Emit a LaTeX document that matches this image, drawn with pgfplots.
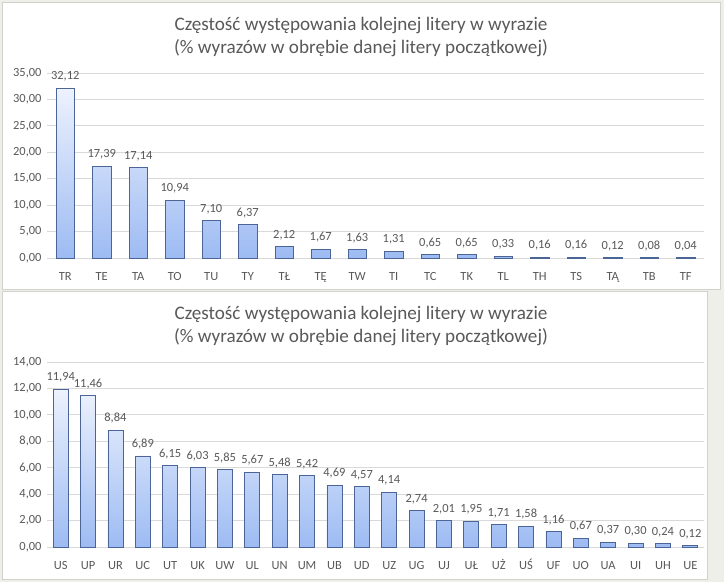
\documentclass[border=0pt]{standalone}
\usepackage{fontspec}
\setmainfont{Carlito}
\usepackage{pgfplots}
\pgfplotsset{compat=1.18}
\definecolor{bg}{HTML}{EEEFE8}
\definecolor{panelborder}{HTML}{D2D2CC}
\definecolor{txt}{HTML}{595959}
\definecolor{gridc}{HTML}{D9D9D9}
\definecolor{bartop}{HTML}{EDF2FD}
\definecolor{barbot}{HTML}{9DBBF3}
\definecolor{barline}{HTML}{4A6596}

\pgfplotsset{mybars/.style={
  scale only axis, width=657bp, height=185bp, ymin=0,
  axis line style={draw=none}, tick style={draw=none}, major tick length=0pt,
  ymajorgrids, grid style={gridc, line width=0.8bp},
  xtick=data,
  /pgf/number format/assume math mode=true,
  ticklabel style={font=\fontsize{12.5}{14}\selectfont, text=txt},
  xticklabel style={text height=9bp, text depth=3bp},
  yticklabel style={/pgf/number format/fixed, /pgf/number format/fixed zerofill, /pgf/number format/precision=2, /pgf/number format/use comma},
  yticklabel shift=2bp,
  xticklabel shift=10bp,
  nodes near coords,
  nodes near coords style={font=\fontsize{12.5}{14}\selectfont, text=txt, yshift=3bp, /pgf/number format/fixed, /pgf/number format/fixed zerofill, /pgf/number format/precision=2, /pgf/number format/use comma, /pgf/number format/assume math mode=true},
  clip=false,
}}

\begin{document}
\begin{tikzpicture}[x=1bp,y=1bp]
\fill[bg] (0,0) rectangle (724,582);
\filldraw[fill=white, draw=panelborder, line width=0.8bp] (2,293) rectangle (720,580);
\filldraw[fill=white, draw=panelborder, line width=0.8bp] (2,3) rectangle (707,291);

\node[font=\fontsize{19.2}{22.5}\selectfont, text=txt, align=center] at (361,545) {Częstość występowania kolejnej litery w wyrazie\\(\% wyrazów w obrębie danej litery początkowej)};
\node[font=\fontsize{19.2}{22.5}\selectfont, text=txt, align=center] at (361,256) {Częstość występowania kolejnej litery w wyrazie\\(\% wyrazów w obrębie danej litery początkowej)};

\begin{axis}[mybars, at={(47bp,324bp)}, anchor=south west,
  ymax=35, ytick={0,5,...,35}, xmin=-0.5, xmax=17.5,
  xticklabels={TR,TE,TA,TO,TU,TY,TŁ,TĘ,TW,TI,TC,TK,TL,TH,TS,TĄ,TB,TF}]
\addplot[ybar, bar width=18.5bp, draw=barline, line width=0.8bp, top color=bartop, bottom color=barbot] coordinates {
(0,32.12) (1,17.39) (2,17.14) (3,10.94) (4,7.10) (5,6.37) (6,2.12) (7,1.67) (8,1.63)
(9,1.31) (10,0.65) (11,0.65) (12,0.33) (13,0.16) (14,0.16) (15,0.12) (16,0.08) (17,0.04)};
\end{axis}

\begin{axis}[mybars, at={(47bp,35bp)}, anchor=south west,
  ymax=14, ytick={0,2,...,14}, xmin=-0.5, xmax=23.5,
  xticklabels={US,UP,UR,UC,UT,UK,UW,UL,UN,UM,UB,UD,UZ,UG,UJ,UŁ,UŻ,UŚ,UF,UO,UA,UI,UH,UE}]
\addplot[ybar, bar width=15bp, draw=barline, line width=0.8bp, top color=bartop, bottom color=barbot] coordinates {
(0,11.94) (1,11.46) (2,8.84) (3,6.89) (4,6.15) (5,6.03) (6,5.85) (7,5.67) (8,5.48) (9,5.42)
(10,4.69) (11,4.57) (12,4.14) (13,2.74) (14,2.01) (15,1.95) (16,1.71) (17,1.58) (18,1.16)
(19,0.67) (20,0.37) (21,0.30) (22,0.24) (23,0.12)};
\end{axis}
\end{tikzpicture}
\end{document}
